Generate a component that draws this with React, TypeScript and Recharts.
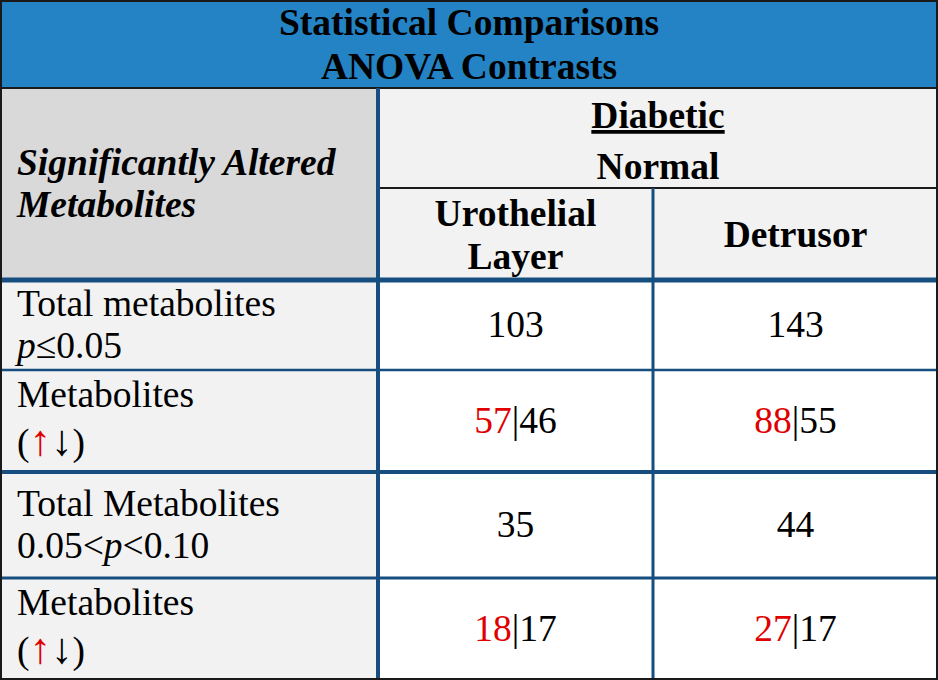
import { ComposedChart, ReferenceArea, ReferenceLine, XAxis, YAxis } from "recharts";

type Seg = { t: string; italic?: boolean; red?: boolean; underline?: boolean; arrow?: boolean };
type Line = Seg[];

// table text
const titleLines = ["Statistical Comparisons", "ANOVA Contrasts"];
const stubHeader = ["Significantly Altered", "Metabolites"];
const comparisonLabels = ["Diabetic", "Normal"];
const tissueLabels = [["Urothelial", "Layer"], ["Detrusor"]];

const rowLabels: Line[][] = [
  [[{ t: "Total metabolites" }], [{ t: "p", italic: true }, { t: "≤0.05" }]],
  [[{ t: "Metabolites" }], [{ t: "(" }, { t: "↑", red: true, arrow: true }, { t: "↓", arrow: true }, { t: ")" }]],
  [[{ t: "Total Metabolites" }], [{ t: "0.05<" }, { t: "p", italic: true }, { t: "<0.10" }]],
  [[{ t: "Metabolites" }], [{ t: "(" }, { t: "↑", red: true, arrow: true }, { t: "↓", arrow: true }, { t: ")" }]],
];

// values per tissue (Urothelial Layer, Detrusor)
const totalP05 = [103, 143];
const upP05 = [57, 88];
const downP05 = [46, 55];
const totalP10 = [35, 44];
const upP10 = [18, 27];
const downP10 = [17, 17];

// layout
const W = 938;
const H = 680;
const COL = [0, 378, 653, 938];
const ROW = [0, 88, 188, 280, 370, 472, 578, 680];

const FONT = '"Liberation Serif", "Times New Roman", serif';
const FONT_SIZE = 37.5;
const ARROW_SIZE = 43;
const BLUE = "#2483c5";
const NAVY = "#174e80";
const DARK = "#1a1a1a";
const RED = "#e00000";
const GRAY = "#d9d9d9";
const LIGHT = "#f2f2f2";

const totalCell = (v: number): Line => [{ t: String(v) }];
const splitCell = (up: number, down: number): Line => [{ t: String(up), red: true }, { t: "|" + down }];

const bodyValues: Line[][] = [
  totalP05.map(totalCell),
  upP05.map((u, i) => splitCell(u, downP05[i])),
  totalP10.map(totalCell),
  upP10.map((u, i) => splitCell(u, downP10[i])),
];

const plain = (s: string[]): Line[] => s.map((t) => [{ t }]);

interface CellOpts {
  fill: string;
  lines: Line[];
  align?: "left" | "center";
  bold?: boolean;
  italic?: boolean;
  offsets?: number[];
}

function cellShape({ fill, lines, align = "center", bold, italic, offsets }: CellOpts) {
  const offs = offsets ?? (lines.length === 1 ? [12] : [-10, 34]);
  return (p: any) => {
    const { x, y, width, height } = p;
    const cy = y + height / 2;
    const tx = align === "left" ? x + 17 : x + width / 2;
    return (
      <g>
        <rect x={x} y={y} width={width} height={height} fill={fill} />
        {lines.map((line, i) => (
          <text
            key={i}
            x={tx}
            y={cy + offs[i]}
            textAnchor={align === "left" ? "start" : "middle"}
            fontFamily={FONT}
            fontSize={FONT_SIZE}
            fontWeight={bold ? "bold" : "normal"}
            fontStyle={italic ? "italic" : "normal"}
          >
            {line.map((s, j) => (
              <tspan
                key={j}
                fill={s.red ? RED : "#000"}
                fontStyle={s.italic ? "italic" : undefined}
                fontSize={s.arrow ? ARROW_SIZE : undefined}
                style={s.underline ? { textDecoration: "underline" } : undefined}
              >
                {s.t}
              </tspan>
            ))}
          </text>
        ))}
      </g>
    );
  };
}

function Cell(x1: number, x2: number, y1: number, y2: number, opts: CellOpts, key: string) {
  return (
    <ReferenceArea key={key} x1={x1} x2={x2} y1={y1} y2={y2} ifOverflow="visible" shape={cellShape(opts)} />
  );
}

function Rule(x1: number, y1: number, x2: number, y2: number, color: string, w: number, key: string) {
  return (
    <ReferenceLine
      key={key}
      segment={[
        { x: x1, y: y1 },
        { x: x2, y: y2 },
      ]}
      stroke={color}
      strokeWidth={w}
      ifOverflow="visible"
    />
  );
}

export default function App() {
  const cells = [
    Cell(COL[0], COL[3], ROW[0], ROW[1], { fill: BLUE, lines: plain(titleLines), bold: true, offsets: [-9, 35] }, "title"),
    Cell(COL[0], COL[1], ROW[1], ROW[3], { fill: GRAY, lines: plain(stubHeader), align: "left", bold: true, italic: true, offsets: [-9, 33] }, "stub"),
    Cell(
      COL[1],
      COL[3],
      ROW[1],
      ROW[2],
      {
        fill: LIGHT,
        lines: [[{ t: comparisonLabels[0], underline: true }], [{ t: comparisonLabels[1] }]],
        bold: true,
        offsets: [-10, 41],
      },
      "cmp"
    ),
    ...tissueLabels.map((t, i) =>
      Cell(COL[1 + i], COL[2 + i], ROW[2], ROW[3], { fill: LIGHT, lines: plain(t), bold: true, offsets: t.length === 1 ? [13] : [-8, 35] }, "tis" + i)
    ),
    ...rowLabels.map((lab, r) =>
      Cell(COL[0], COL[1], ROW[3 + r], ROW[4 + r], { fill: LIGHT, lines: lab, align: "left", offsets: r % 2 ? [-14, 34] : [-9, 33] }, "lab" + r)
    ),
    ...bodyValues.flatMap((vals, r) =>
      vals.map((v, c) => Cell(COL[1 + c], COL[2 + c], ROW[3 + r], ROW[4 + r], { fill: "#fff", lines: [v] }, `v${r}-${c}`))
    ),
  ];

  const rules = [
    Rule(COL[0], ROW[1], COL[3], ROW[1], DARK, 2, "h1"),
    Rule(COL[1], ROW[2], COL[3], ROW[2], DARK, 2, "h2"),
    Rule(COL[0], ROW[3], COL[3], ROW[3], NAVY, 5, "h3"),
    Rule(COL[0], ROW[4], COL[3], ROW[4], NAVY, 2.5, "h4"),
    Rule(COL[0], ROW[5], COL[3], ROW[5], NAVY, 4, "h5"),
    Rule(COL[0], ROW[6], COL[3], ROW[6], NAVY, 3, "h6"),
    Rule(COL[1], ROW[1], COL[1], ROW[7], NAVY, 4, "v1"),
    Rule(COL[2], ROW[2], COL[2], ROW[7], NAVY, 3, "v2"),
    Rule(COL[0], ROW[0] + 1, COL[3], ROW[0] + 1, DARK, 2, "top"),
    Rule(COL[0], ROW[7] - 1, COL[3], ROW[7] - 1, DARK, 2, "bottom"),
    Rule(COL[0] + 1, ROW[0], COL[0] + 1, ROW[7], DARK, 2, "left"),
    Rule(COL[3] - 1, ROW[0], COL[3] - 1, ROW[7], DARK, 2, "right"),
  ];

  return (
    <div style={{ width: W, height: H }}>
      <style>{"body{margin:0}"}</style>
      <ComposedChart width={W} height={H} margin={{ top: 0, right: 0, bottom: 0, left: 0 }} data={rowLabels.map((_, i) => ({ i }))}>
        <XAxis type="number" dataKey="i" domain={[0, W]} allowDataOverflow hide />
        <YAxis type="number" domain={[0, H]} allowDataOverflow reversed hide />
        {cells}
        {rules}
      </ComposedChart>
    </div>
  );
}
